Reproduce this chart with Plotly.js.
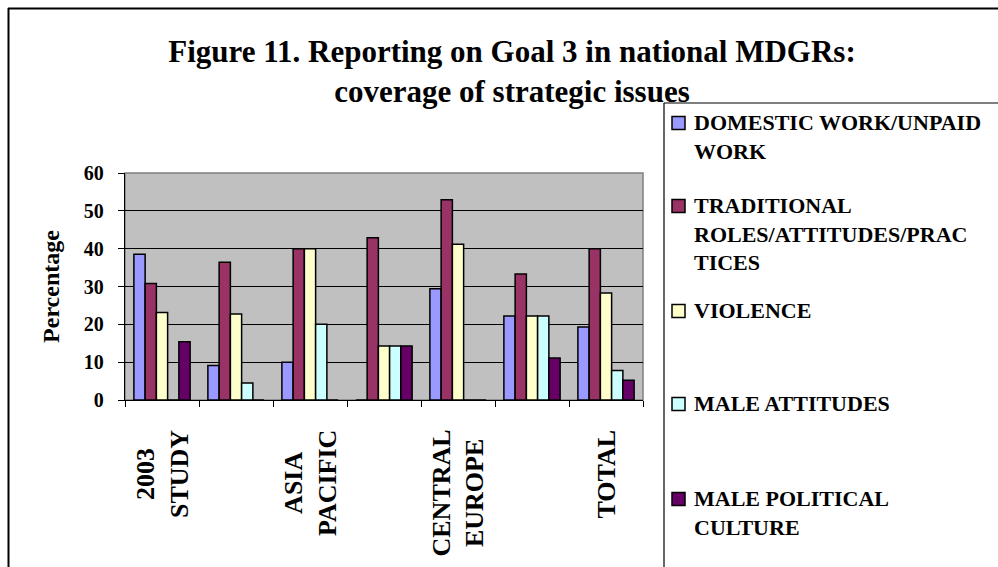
<!DOCTYPE html>
<html><head><meta charset="utf-8">
<script src="https://cdn.plot.ly/plotly-3.0.1.min.js"></script>
<style>html,body{margin:0;padding:0;background:#fff}#chart{width:998px;height:567px}</style>
</head><body><div id="chart"></div>
<script>
// ---- data ----
const categoryLabels = ["2003<br>STUDY", "", "ASIA<br>PACIFIC", "", "CENTRAL<br>EUROPE", "", "TOTAL"];
const seriesNames = ["DOMESTIC WORK/UNPAID<br>WORK", "TRADITIONAL<br>ROLES/ATTITUDES/PRAC<br>TICES", "VIOLENCE", "MALE ATTITUDES", "MALE POLITICAL<br>CULTURE"];
const domesticWork     = [38.5, 9.1, 10.0, 0.0, 29.4, 22.2, 19.3];
const traditionalRoles = [30.8, 36.4, 40.0, 42.9, 52.9, 33.3, 40.0];
const violence         = [23.1, 22.7, 40.0, 14.3, 41.2, 22.2, 28.3];
const maleAttitudes    = [0.0, 4.5, 20.0, 14.3, 0.0, 22.2, 7.8];
const malePolitical    = [15.4, 0.0, 0.0, 14.3, 0.0, 11.1, 5.2];
const seriesValues = [domesticWork, traditionalRoles, violence, maleAttitudes, malePolitical];
const seriesColors = ["#9999FF", "#993366", "#FFFFCC", "#CCFFFF", "#660066"];
const yTickLabels = ["0", "10", "20", "30", "40", "50", "60"];

// ---- layout geometry (pixels) ----
const W = 998, H = 567, L = 125, R = 643, T = 173, B = 400;
const pw = R - L, ph = B - T;
const px = p => (p - L) / pw;
const py = p => (B - p) / ph;
const FONT = "Liberation Serif, Times New Roman, serif";
const legendRowY = [123, 206, 311, 404, 499];

const xIdx = categoryLabels.map((_, i) => i);
const traces = seriesValues.map((vals, k) => ({
  type: "bar",
  x: xIdx,
  y: vals,
  name: seriesNames[k],
  marker: {color: seriesColors[k], line: {color: "#000", width: 1.5}},
  hoverinfo: "y+name"
}));

function hline(x0, x1, y, w) {
  return {type: "line", xref: "paper", yref: "paper", x0: px(x0), x1: px(x1), y0: py(y), y1: py(y),
    line: {color: "#000", width: w}, layer: "above"};
}
function vline(x, y0, y1, w) {
  return {type: "line", xref: "paper", yref: "paper", x0: px(x), x1: px(x), y0: py(y0), y1: py(y1),
    line: {color: "#000", width: w}, layer: "above"};
}

const shapes = [
  // outer chart border (top & left visible)
  hline(8, 998, 8.5, 2),
  vline(8.5, 8, 567, 2),
  // plot area border
  {type: "rect", xref: "paper", yref: "paper", x0: 0, x1: 1, y0: 0, y1: 1,
   line: {color: "#808080", width: 1.5}, fillcolor: "rgba(0,0,0,0)", layer: "below"},
  // legend box (top & left visible)
  hline(664, 998, 103, 1.2),
  vline(664, 103, 567, 1.2)
];
const annotations = [];
seriesNames.forEach((nm, k) => {
  const cy = legendRowY[k];
  shapes.push({type: "rect", xref: "paper", yref: "paper", x0: px(672), x1: px(685), y0: py(cy + 6.5), y1: py(cy - 6.5),
    line: {color: "#000", width: 1.5}, fillcolor: seriesColors[k], layer: "above"});
  annotations.push({xref: "paper", yref: "paper", x: px(692), y: py(cy - 15.5), xanchor: "left", yanchor: "top",
    text: nm, align: "left", showarrow: false, font: {family: FONT, size: 22, color: "#000", weight: "bold"}});
});
categoryLabels.forEach((lab, i) => {
  if (!lab) return;
  annotations.push({xref: "x", yref: "paper", x: i, y: py(428), xanchor: "center", yanchor: "top",
    text: lab, textangle: -90, align: "center", showarrow: false,
    font: {family: FONT, size: 26, color: "#000", weight: "bold"}});
});

const layout = {
  width: W, height: H,
  margin: {l: L, r: W - R, t: T, b: H - B, pad: 0},
  paper_bgcolor: "#fff", plot_bgcolor: "#C0C0C0",
  showlegend: false,
  barmode: "group", bargap: 0.24, bargroupgap: 0,
  title: {text: "Figure 11. Reporting on Goal 3 in national MDGRs:<br>coverage of strategic issues",
    font: {family: FONT, size: 31, color: "#000", weight: "bold"},
    xref: "container", yref: "container", x: 512 / W, xanchor: "center", y: 1 - 62 / H, yanchor: "top"},
  xaxis: {range: [-0.5, categoryLabels.length - 0.5], tickmode: "array",
    tickvals: categoryLabels.map((_, i) => i - 0.5).concat([categoryLabels.length - 0.5]),
    showticklabels: false, ticks: "outside", ticklen: 6, tickcolor: "#000", tickwidth: 1,
    showline: true, linecolor: "#000", linewidth: 1.2, showgrid: false, zeroline: false, fixedrange: true},
  yaxis: {range: [0, 60], tickmode: "array", tickvals: yTickLabels.map(Number), ticktext: yTickLabels,
    ticks: "outside", ticklen: 6, tickcolor: "#000", tickwidth: 1, ticklabelstandoff: 10,
    showline: true, linecolor: "#000", linewidth: 1.2,
    showgrid: true, gridcolor: "#000", gridwidth: 1, zeroline: false,
    tickfont: {family: FONT, size: 20, color: "#000", weight: "bold"},
    title: {text: "Percentage", font: {family: FONT, size: 24, color: "#000", weight: "bold"}, standoff: 17},
    fixedrange: true},
  shapes: shapes,
  annotations: annotations
};
Plotly.newPlot("chart", traces, layout, {displayModeBar: false, staticPlot: true});
</script>
</body></html>
